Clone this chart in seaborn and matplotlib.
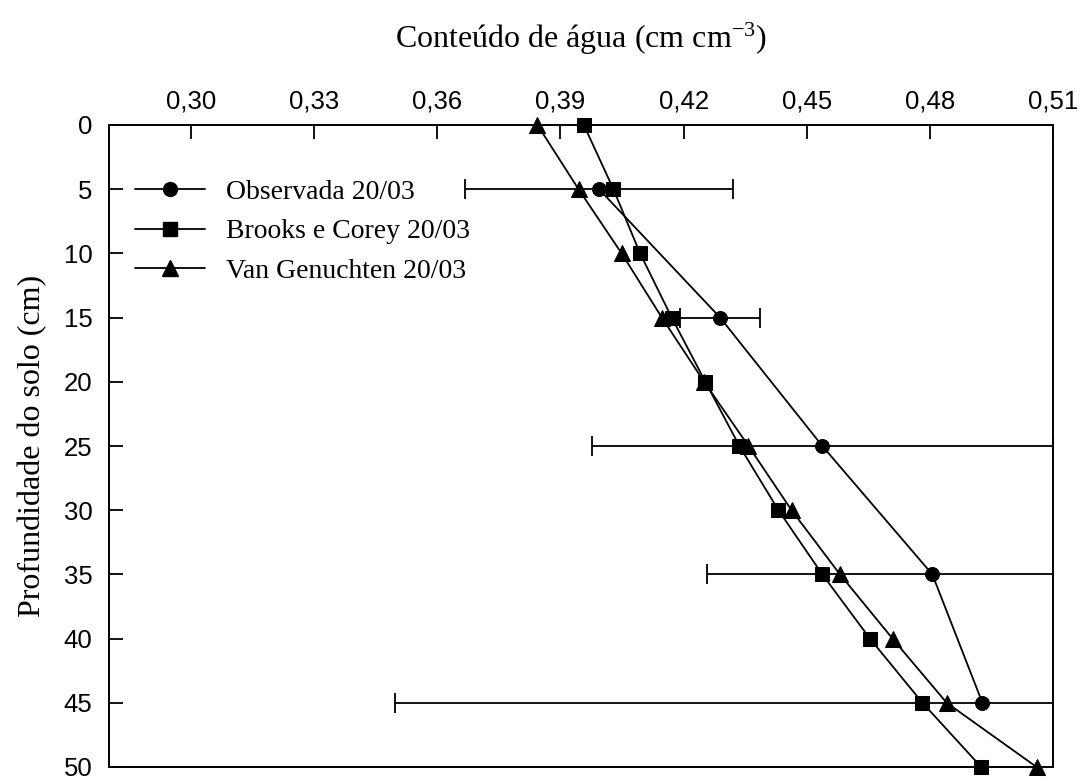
import numpy as np
import pandas as pd
import matplotlib
matplotlib.use("Agg")
import matplotlib.pyplot as plt
from matplotlib.lines import Line2D
import seaborn as sns

# Soil water content profiles (cm3 cm-3) against depth (cm)
depth_model = [0, 5, 10, 15, 20, 25, 30, 35, 40, 45, 50]
brooks_corey = [0.3957, 0.4029, 0.4094, 0.4171, 0.4253, 0.4336, 0.4431, 0.4538, 0.4654, 0.4782, 0.4925]
van_genuchten = [0.3844, 0.3944, 0.4049, 0.4147, 0.4250, 0.4358, 0.4463, 0.4581, 0.4709, 0.4841, 0.5060]

depth_obs = [5, 15, 25, 35, 45]
observed = [0.3994, 0.4289, 0.4538, 0.4806, 0.4928]
observed_err = [0.0327, 0.0098, 0.0562, 0.0548, 0.1431]

series_names = ["Observada 20/03", "Brooks e Corey 20/03", "Van Genuchten 20/03"]

x_ticks = [0.30, 0.33, 0.36, 0.39, 0.42, 0.45, 0.48, 0.51]
x_tick_labels = ["0,30", "0,33", "0,36", "0,39", "0,42", "0,45", "0,48", "0,51"]
y_ticks = [0, 5, 10, 15, 20, 25, 30, 35, 40, 45, 50]

df = pd.concat([
    pd.DataFrame({"theta": observed, "depth": depth_obs, "serie": series_names[0]}),
    pd.DataFrame({"theta": brooks_corey, "depth": depth_model, "serie": series_names[1]}),
    pd.DataFrame({"theta": van_genuchten, "depth": depth_model, "serie": series_names[2]}),
], ignore_index=True)

sns.set_style("ticks")
plt.rcParams["font.family"] = ["Liberation Sans", "DejaVu Sans"]
plt.rcParams["mathtext.fontset"] = "custom"
plt.rcParams["mathtext.rm"] = "Liberation Serif"
plt.rcParams["mathtext.it"] = "Liberation Serif"
plt.rcParams["text.color"] = "black"
plt.rcParams["axes.labelcolor"] = "black"
plt.rcParams["xtick.color"] = "black"
plt.rcParams["ytick.color"] = "black"

serif = ["Liberation Serif", "DejaVu Serif"]

fig = plt.figure(figsize=(10.81, 7.78), dpi=100)
ax = fig.add_axes([109 / 1081, 1 - 767 / 778, 944 / 1081, 642 / 778])

marker_map = {series_names[0]: "o", series_names[1]: "s", series_names[2]: "^"}
size_map = {series_names[0]: 10, series_names[1]: 10, series_names[2]: 11}

# error bars of the observed profile (clipped at the frame)
ax.errorbar(observed, depth_obs, xerr=observed_err, fmt="none", ecolor="black",
            elinewidth=1.3, capsize=7, capthick=1.3, zorder=2)

for name in series_names:
    sub = df[df["serie"] == name]
    sns.lineplot(data=sub, x="theta", y="depth", sort=False, orient="y",
                 color="black", linewidth=1.3, marker=marker_map[name],
                 markersize=size_map[name], markeredgecolor="black",
                 markerfacecolor="black", ax=ax, legend=False, zorder=3)

for ln in ax.lines:
    ln.set_clip_on(False)

ax.set_xlim(0.28, 0.51)
ax.set_ylim(50, 0)
ax.xaxis.tick_top()
ax.xaxis.set_label_position("top")
ax.set_xticks(x_ticks)
ax.set_xticklabels(x_tick_labels)
ax.set_yticks(y_ticks)
ax.set_yticklabels([str(v) for v in y_ticks])
ax.tick_params(axis="x", direction="in", length=10, width=1.3, labelsize=18.5, pad=8,
               top=True, bottom=False, colors="black")
ax.tick_params(axis="y", direction="in", length=10, width=1.3, labelsize=18.5, pad=12,
               left=True, right=False, colors="black")
for sp in ax.spines.values():
    sp.set_visible(True)
    sp.set_linewidth(1.4)
    sp.set_color("black")

ax.set_xlabel("Conteúdo de água (cm cm$^{-3}$)", fontsize=23, family=serif, labelpad=30)
ax.set_ylabel("Profundidade do solo (cm)", fontsize=23, family=serif, labelpad=12)

handles = [Line2D([], [], color="black", linewidth=1.3, marker=marker_map[n],
                  markersize=size_map[n], markerfacecolor="black") for n in series_names]
ax.legend(handles, series_names, loc="upper left", bbox_to_anchor=(0.028, 0.915),
          frameon=False, prop={"family": serif, "size": 20}, handlelength=2.5,
          handletextpad=0.75, labelspacing=0.5, borderpad=0, borderaxespad=0)

fig.savefig("out.png", dpi=100)
